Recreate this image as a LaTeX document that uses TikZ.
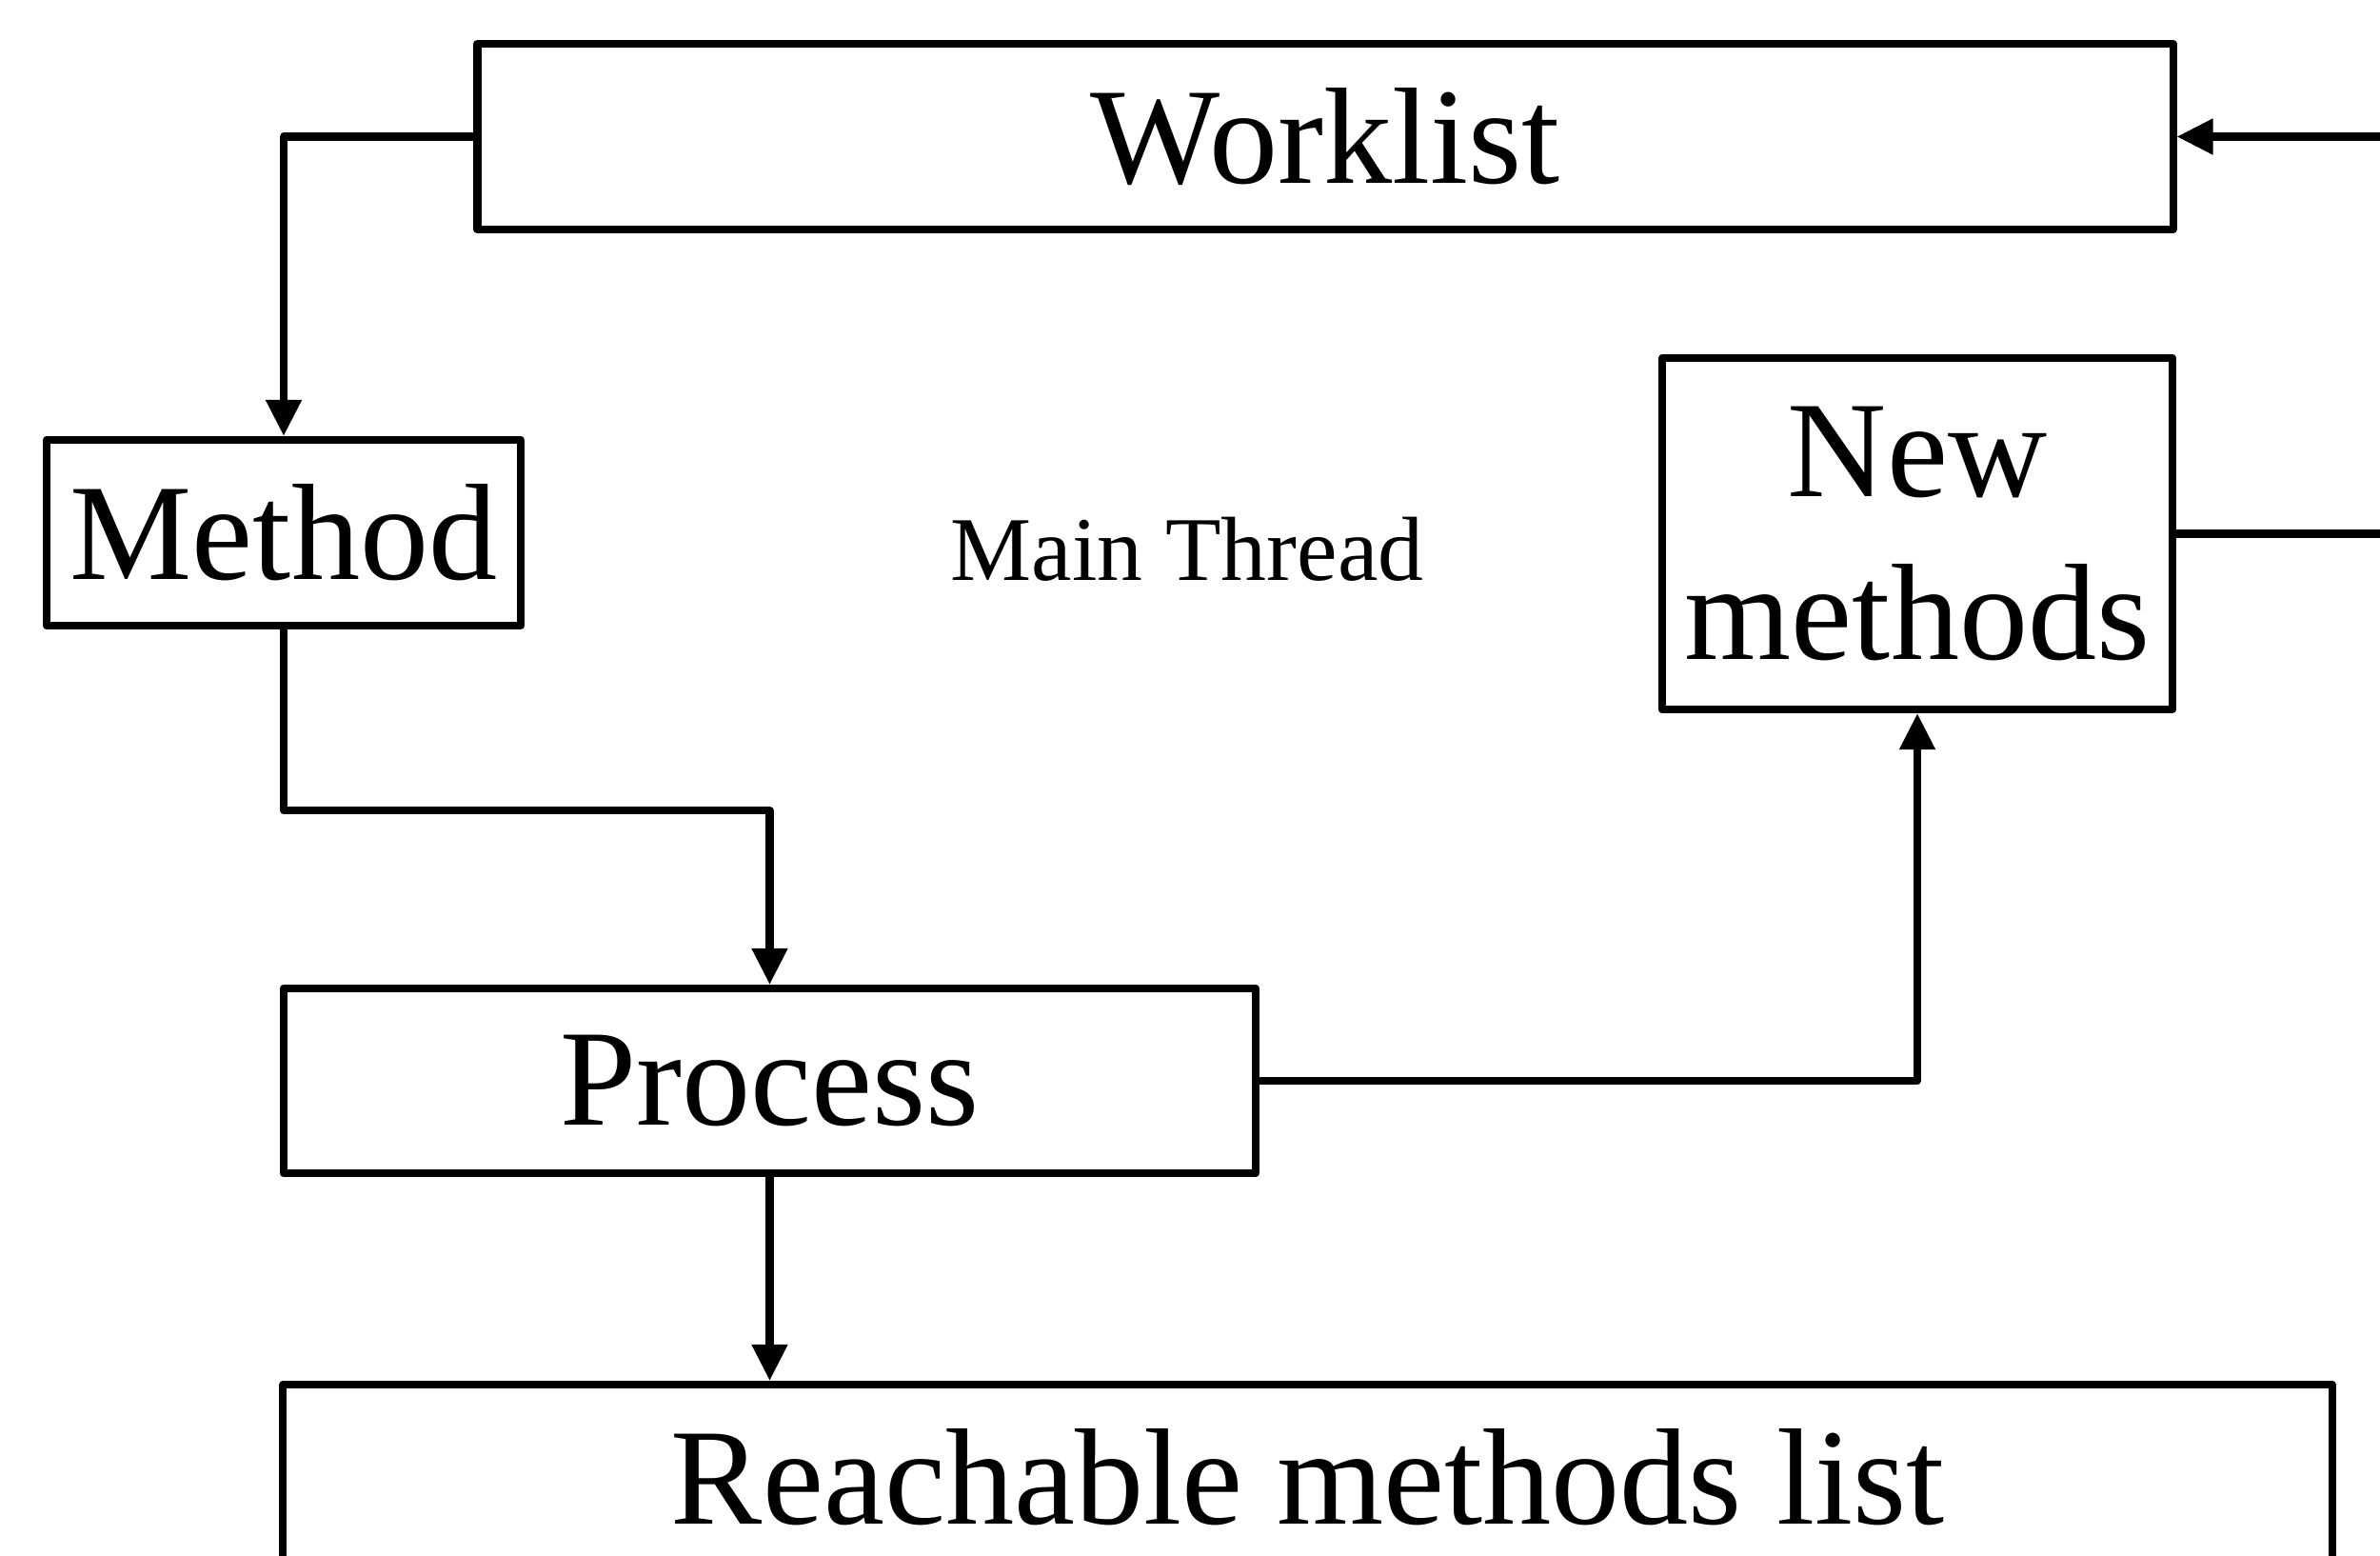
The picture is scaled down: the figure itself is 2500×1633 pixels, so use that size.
\documentclass[tikz,border=0pt]{standalone}
\usepackage{fontspec}
\setmainfont{Liberation Serif}
\usetikzlibrary{arrows.meta}
\begin{document}
\begin{tikzpicture}[x=0.01cm,y=-0.01cm,
  box/.style={draw, line width=2.3pt, line join=round, inner sep=0pt, font=\fontsize{41}{48.6}\selectfont, align=center},
  conn/.style={line width=2.3pt, line join=round},
  arr/.style={conn, -{Triangle[length=0.38cm,width=0.36cm]}}]
\useasboundingbox (0,0) rectangle (2500,1633);
\clip (0,0) rectangle (2500,1633);
\node[box, minimum width=17.8cm, minimum height=1.95cm] (wl) at (1392,143.5) {Worklist};
\node[box, minimum width=4.98cm, minimum height=1.95cm] (meth) at (298,559.5) {Method};
\node[box, minimum width=5.36cm, minimum height=3.69cm] (newm) at (2014,560.5) {New\\methods};
\node[box, minimum width=10.21cm, minimum height=1.94cm] (proc) at (808.5,1135) {Process};
\node[box, minimum width=21.51cm, minimum height=1.95cm] (reach) at (1373.5,1551.5) {Reachable methods list};
\node[font=\fontsize{27.2}{32}\selectfont] (mt) at (1247,577) {Main Thread};
\coordinate (rin) at (2500,143.5);
\coordinate (rout) at (2500,560.5);
\draw[arr] (wl.west) -| (meth.north);
\draw[arr] (meth.south) -- ++(0,190) -| (proc.north);
\draw[arr] (proc.east) -| (newm.south);
\draw[arr] (proc.south) -- (proc.south |- reach.north);
\draw[arr] (rin) -- (wl.east);
\draw[conn] (newm.east) -- (rout);
\end{tikzpicture}
\end{document}
